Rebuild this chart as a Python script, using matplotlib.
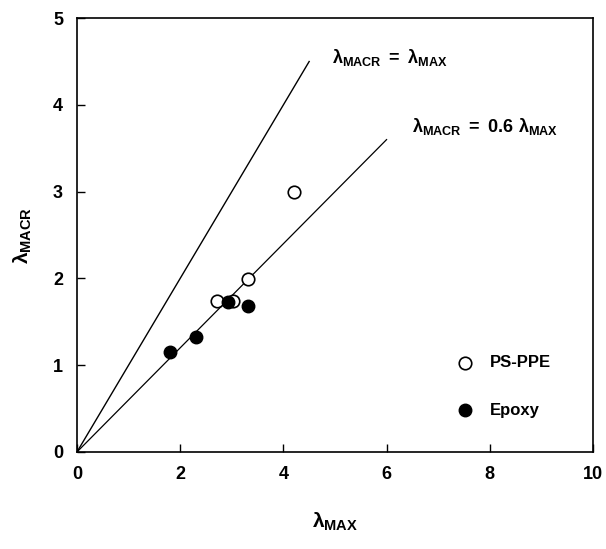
import matplotlib
matplotlib.use("Agg")
import matplotlib.pyplot as plt
import numpy as np

plt.rcParams["font.family"] = ["Liberation Sans", "DejaVu Sans"]
plt.rcParams["font.weight"] = "bold"
plt.rcParams["mathtext.fontset"] = "custom"
plt.rcParams["mathtext.rm"] = "Liberation Sans:bold"
plt.rcParams["mathtext.it"] = "Liberation Sans:bold"
plt.rcParams["mathtext.bf"] = "Liberation Sans:bold"

# datos
ps_ppe_x = [2.71, 3.03, 3.32, 4.21]
ps_ppe_y = [1.74, 1.74, 1.99, 3.00]
epoxy_x = [1.80, 2.31, 2.93, 3.31]
epoxy_y = [1.15, 1.32, 1.73, 1.68]

linea1_x = [0, 4.5]
linea2_x = [0, 6.0]
pendiente2 = 0.6

ticks_x = [0, 2, 4, 6, 8, 10]
ticks_y = [0, 1, 2, 3, 4, 5]

fig = plt.figure(figsize=(6.06, 5.49), dpi=100)
ax = fig.add_axes([0.127, 0.1767, 0.8515, 0.7903])

ax.plot(linea1_x, linea1_x, color="black", lw=1.0)
ax.plot(linea2_x, [pendiente2 * x for x in linea2_x], color="black", lw=0.9)

ax.plot(ps_ppe_x, ps_ppe_y, "o", ms=9, mfc="white", mec="black", mew=1.2)
ax.plot(epoxy_x, epoxy_y, "o", ms=9, mfc="black", mec="black")

# leyenda manual
ax.plot([7.52], [1.03], "o", ms=9, mfc="white", mec="black", mew=1.2)
ax.plot([7.52], [0.48], "o", ms=9, mfc="black", mec="black")
ax.text(8.0, 1.03, "PS-PPE", fontsize=12, va="center", ha="left")
ax.text(8.0, 0.48, "Epoxy", fontsize=12, va="center", ha="left")

ax.text(4.95, 4.55, r"$\lambda_{\mathrm{MACR}}\ =\ \lambda_{\mathrm{MAX}}$",
        fontsize=13, va="center", ha="left")
ax.text(6.5, 3.75, r"$\lambda_{\mathrm{MACR}}\ =\ 0.6\ \lambda_{\mathrm{MAX}}$",
        fontsize=13, va="center", ha="left")

ax.set_xlim(0, 10)
ax.set_ylim(0, 5)
ax.set_xticks(ticks_x)
ax.set_yticks(ticks_y)
ax.tick_params(direction="in", length=6, width=1, labelsize=13, pad=10)
for s in ax.spines.values():
    s.set_linewidth(1.2)

ax.set_xlabel(r"$\lambda_{\mathrm{MAX}}$", fontsize=15, labelpad=20)
ax.set_ylabel(r"$\lambda_{\mathrm{MACR}}$", fontsize=15, labelpad=14)

fig.savefig("out.png", dpi=100)
